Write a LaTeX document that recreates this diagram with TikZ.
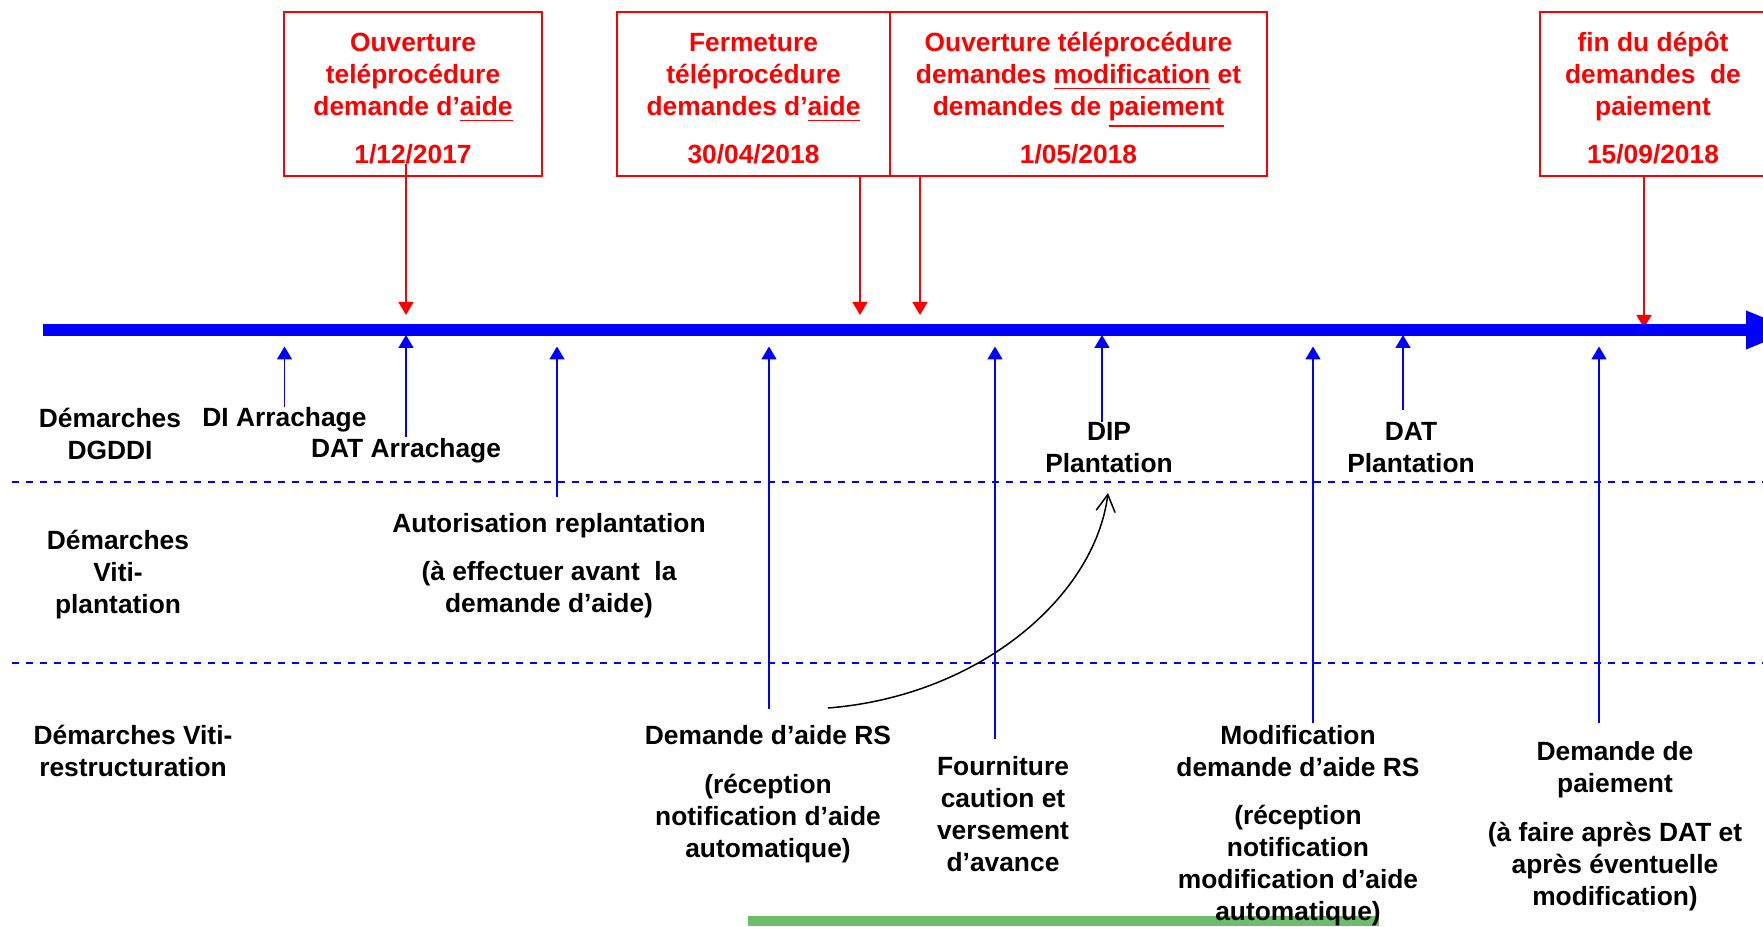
\documentclass[tikz,border=0pt]{standalone}
\usepackage{fontspec}
\setmainfont{Liberation Sans}
\usetikzlibrary{arrows.meta, calc}
\definecolor{barGreen}{RGB}{108,190,108}
\newcommand{\boxtop}{\rule{0pt}{0.265cm}}

\begin{document}
\begin{tikzpicture}[
    txt/.style={inner sep=0pt, align=center, font=\bfseries\fontsize{7.5}{9.1}\selectfont},
    datebox/.style={draw=red, line width=0.02cm, text=red, minimum height=1.64cm, inner sep=0pt, align=center, font=\bfseries\fontsize{7.5}{9.1}\selectfont},
    down/.style={red, line width=0.017cm, -{Triangle[width=0.15cm,length=0.13cm]}},
    up/.style={blue, line width=0.017cm, -{Triangle[width=0.15cm,length=0.13cm]}},
    lane/.style={blue, line width=0.02cm, dash pattern=on 0.075cm off 0.065cm}
]
    \useasboundingbox (0,0) rectangle (17.63,9.26);
    \clip (0,0) rectangle (17.63,9.26);

    \fill[barGreen] (7.48,0) rectangle (13.79,0.10);

    \node[datebox, minimum width=2.575cm] (b1) at (4.13,8.315) {\boxtop Ouverture\\teléprocédure\\demande d’\underline{aide}\\[4.5pt]1/12/2017};
    \node[datebox, minimum width=2.73cm] (b2) at (7.535,8.315) {\boxtop Fermeture\\téléprocédure\\demandes d’\underline{aide}\\[4.5pt]30/04/2018};
    \node[datebox, minimum width=3.77cm] (b3) at (10.785,8.315) {\boxtop Ouverture téléprocédure\\demandes \underline{modification} et\\demandes de \underline{paiement}\\[4.5pt]1/05/2018};
    \node[datebox, minimum width=2.26cm] (b4) at (16.53,8.315) {\boxtop fin du dépôt\\demandes~ de\\paiement\\[4.5pt]15/09/2018};

    \coordinate (r1) at (4.06,6.11);
    \coordinate (r2) at (8.60,6.11);
    \coordinate (r3) at (9.20,6.11);
    \coordinate (r4) at (16.44,5.98);
    \draw[down] ($(b1.south -| r1)+(0,0.135)$) -- (r1);
    \draw[down] (b2.south -| r2) -- (r2);
    \draw[down] (b3.south -| r3) -- (r3);
    \draw[down] (b4.south -| r4) -- (r4);

    \draw[blue, line width=0.12cm, -{Triangle[width=0.35cm,length=0.5cm]}] (0.43,5.96) -- (17.96,5.96);

    \draw[lane] (0.12,4.443) -- (17.63,4.443);
    \draw[lane] (0.12,2.63) -- (17.63,2.63);

    \node[txt, anchor=north] (dgddi) at (1.10,5.19) {Démarches\\DGDDI};
    \node[txt, anchor=north] (vitiP) at (1.18,3.97) {Démarches\\Viti-\\plantation};
    \node[txt, anchor=north] (vitiR) at (1.33,2.02) {Démarches Viti-\\restructuration};

    \node[txt, anchor=north] (diA) at (2.845,5.19) {DI Arrachage};
    \node[txt, anchor=north] (datA) at (4.06,4.885) {DAT Arrachage};
    \node[txt, anchor=north] (autoR) at (5.49,4.13) {Autorisation replantation\\[4.5pt](à effectuer avant~ la\\demande d’aide)};
    \node[txt, anchor=north] (dRS) at (7.68,2.01) {Demande d’aide RS\\[4.8pt](réception\\notification d’aide\\automatique)};
    \node[txt, anchor=north] (fourn) at (10.03,1.70) {Fourniture\\caution et\\versement\\d’avance};
    \node[txt, anchor=north] (dip) at (11.09,5.04) {DIP\\Plantation};
    \node[txt, anchor=north] (modif) at (12.98,2.01) {Modification\\demande d’aide RS\\[4.5pt](réception\\notification\\modification d’aide\\automatique)};
    \node[txt, anchor=north] (datP) at (14.11,5.04) {DAT\\Plantation};
    \node[txt, anchor=north] (dPai) at (16.15,1.85) {Demande de\\paiement\\[4.8pt](à faire après DAT et\\après éventuelle\\modification)};

    \coordinate (t1) at (2.845,5.795);
    \coordinate (t2) at (4.06,5.91);
    \coordinate (t3) at (5.57,5.795);
    \coordinate (t4) at (7.69,5.795);
    \coordinate (t5) at (9.95,5.795);
    \coordinate (t6) at (11.02,5.91);
    \coordinate (t7) at (13.13,5.795);
    \coordinate (t8) at (14.03,5.91);
    \coordinate (t9) at (15.99,5.795);

    \draw[up] (diA.north -| t1) -- (t1);
    \draw[up] (datA.north -| t2) -- (t2);
    \draw[up] ($(autoR.north -| t3)+(0,0.16)$) -- (t3);
    \draw[up] ($(dRS.north -| t4)+(0,0.16)$) -- (t4);
    \draw[up] ($(fourn.north -| t5)+(0,0.17)$) -- (t5);
    \draw[up] (dip.north -| t6) -- (t6);
    \draw[up] ($(modif.north -| t7)+(0,0.02)$) -- (t7);
    \draw[up] ($(datP.north -| t8)+(0,0.12)$) -- (t8);
    \draw[up] ($(dPai.north -| t9)+(0,0.18)$) -- (t9);

    \coordinate (cs) at (8.28,2.18);
    \coordinate (ce) at (11.08,4.33);
    \draw[line width=0.015cm, -{Straight Barb[width=0.19cm,length=0.17cm]}] (cs) .. controls (9.8,2.3) and (10.95,3.3) .. (ce);
\end{tikzpicture}
\end{document}
